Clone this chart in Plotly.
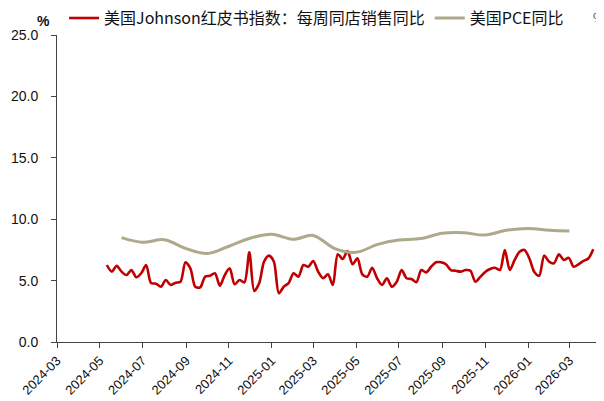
import pandas as pd
import plotly.graph_objects as go

# Johnson Redbook weekly same-store sales YoY (%), weekly from 2024-05-11
redbook_start = "2024-05-11"
redbook_values = [
    6.27, 5.73, 6.20, 5.73, 5.45, 5.86, 5.27, 5.60, 6.27, 4.80,
    4.75, 4.50, 5.05, 4.64, 4.83, 4.91, 6.49, 6.00, 4.50, 4.45,
    5.32, 5.40, 5.60, 4.58, 5.45, 6.00, 4.70, 5.05, 4.86, 7.30,
    4.15, 4.78, 6.54, 7.03, 6.54, 3.97, 4.50, 4.80, 5.60, 5.32,
    6.27, 6.13, 6.60, 5.73, 5.19, 5.51, 4.64, 7.14, 6.76, 7.41,
    6.33, 6.81, 5.51, 5.32, 6.05, 5.19, 4.64, 5.19, 4.50, 4.91,
    5.86, 5.19, 5.13, 4.86, 5.86, 5.67, 6.13, 6.49, 6.49, 6.33,
    5.86, 5.80, 5.73, 5.86, 5.80, 4.91, 5.30, 5.70, 5.94, 6.05,
    5.86, 7.49, 5.86, 6.68, 7.35, 7.49, 6.80, 5.70, 5.40, 7.03,
    6.54, 6.41, 7.14, 6.68, 6.85, 6.13, 6.33, 6.60, 6.80, 7.55,
]
redbook_dates = pd.date_range(redbook_start, periods=len(redbook_values), freq="7D")

# US PCE YoY (%), monthly
pce_months = [
    "2024-06-01", "2024-07-01", "2024-08-01", "2024-09-01", "2024-10-01",
    "2024-11-01", "2024-12-01", "2025-01-01", "2025-02-01", "2025-03-01",
    "2025-04-01", "2025-05-01", "2025-06-01", "2025-07-01", "2025-08-01",
    "2025-09-01", "2025-10-01", "2025-11-01", "2025-12-01", "2026-01-01",
    "2026-02-01", "2026-03-01",
]
pce_values = [
    8.50, 8.12, 8.33, 7.60, 7.20, 7.80, 8.45, 8.77, 8.36, 8.68,
    7.60, 7.30, 7.95, 8.30, 8.42, 8.85, 8.90, 8.71, 9.10, 9.25,
    9.10, 9.04,
]

series_names = ["美国Johnson红皮书指数：每周同店销售同比", "美国PCE同比"]

fig = go.Figure()
fig.add_trace(go.Scatter(
    x=redbook_dates, y=redbook_values, mode="lines", name=series_names[0],
    line=dict(color="#C00000", width=2.6, shape="spline", smoothing=0.8),
))
fig.add_trace(go.Scatter(
    x=pce_months, y=pce_values, mode="lines", name=series_names[1],
    line=dict(color="#ADA98A", width=3, shape="spline", smoothing=1.0),
))
fig.add_trace(go.Scatter(x=[], y=[], yaxis="y2", showlegend=False, hoverinfo="skip"))

tick_font = dict(family="Liberation Sans, Arial, sans-serif", size=14, color="#111111")

# page body has an 8px default margin, so the figure is sized/offset to compensate
fig.update_layout(
    width=596, height=393,
    margin=dict(l=49, r=3, t=27, b=59, autoexpand=False),
    paper_bgcolor="white", plot_bgcolor="white",
    font=dict(family="Liberation Sans, Arial, sans-serif"),
    showlegend=True,
    legend=dict(
        orientation="h", x=0.013, xanchor="left", y=1.055, yanchor="middle",
        font=dict(family="Noto Sans CJK SC", size=16, color="#111111"),
        bgcolor="rgba(0,0,0,0)", itemwidth=30, tracegroupgap=0,
    ),
    xaxis=dict(
        type="date", range=["2024-03-01", "2026-04-15"],
        tick0="2024-03-01", dtick="M2", tickformat="%Y-%m",
        tickangle=-45, ticks="outside", ticklen=5, tickcolor="#444444",
        showline=True, linecolor="#444444", linewidth=1,
        showgrid=False, zeroline=False, automargin=False,
        tickfont=dict(family="Liberation Sans, Arial, sans-serif", size=13, color="#111111"),
    ),
    yaxis=dict(
        range=[0, 25], dtick=5, tickformat=".1f",
        ticks="outside", ticklen=5, tickcolor="#444444",
        showline=True, linecolor="#444444", linewidth=1,
        showgrid=False, zeroline=False, tickfont=tick_font,
        automargin=False, ticklabelstandoff=10,
    ),
    yaxis2=dict(
        overlaying="y", side="right", range=[0, 13], dtick=1,
        showticklabels=False, ticks="outside", ticklen=5, tickcolor="#AAAAAA",
        showline=True, linecolor="#AAAAAA", linewidth=1,
        showgrid=False, zeroline=False, automargin=False,
    ),
    annotations=[
        dict(text="<b>%</b>", xref="paper", yref="paper", x=-0.04, y=1.0, yshift=24,
             showarrow=False, font=dict(size=14, color="#111111", family="Liberation Sans, Arial")),
        dict(text="%", xref="paper", yref="paper", x=1.0, xanchor="right", xshift=6, y=1.0, yshift=27,
             showarrow=False, font=dict(size=13, color="#444444", family="Liberation Sans, Arial")),
    ],
)

fig.write_html("out.html")
